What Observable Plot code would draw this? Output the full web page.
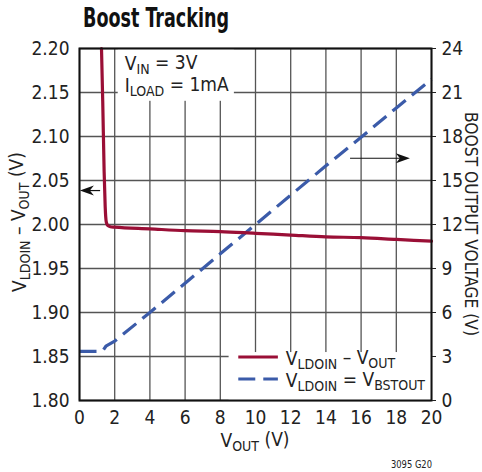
<!DOCTYPE html>
<html>
<head>
<meta charset="utf-8">
<script src="https://cdn.jsdelivr.net/npm/d3@7"></script>
<script src="https://cdn.jsdelivr.net/npm/@observablehq/plot@0.6"></script>
<style>
  html, body { margin: 0; padding: 0; background: #fff; }
  svg { display: block; }
</style>
</head>
<body>
<div id="chart"></div>
<script>
// ---- data ----
const xTicks = [0, 2, 4, 6, 8, 10, 12, 14, 16, 18, 20];
const yLeftTicks = [1.80, 1.85, 1.90, 1.95, 2.00, 2.05, 2.10, 2.15, 2.20];
const yRightTicks = [0, 3, 6, 9, 12, 15, 18, 21, 24];

// V_LDOIN - V_OUT (left axis, V)
const ldoVout = [1.25, 1.32, 1.40, 1.46, 1.52, 1.60, 1.75, 2, 4, 6, 8, 10, 12, 14, 16, 18, 20];
const ldoDiff = [2.20, 2.14, 2.06, 2.02, 2.003, 1.999, 1.9975, 1.997, 1.995, 1.993, 1.992, 1.990, 1.988, 1.986, 1.985, 1.983, 1.981];

// V_LDOIN = V_BSTOUT (right axis, V)
const bstVout = [0, 1.3, 1.5, 2, 4, 6, 8, 10, 12, 14, 16, 18, 20];
const bstV = [3.35, 3.35, 3.7, 4.05, 6.0, 8.0, 10.0, 12.0, 14.0, 16.0, 17.95, 19.95, 21.9];

// ---- helpers ----
const FONT = "'Liberation Sans Narrow', 'DejaVu Sans Condensed', 'Roboto Condensed', sans-serif";
const RED = "#9a0f36";
const BLUE = "#3b5ba9";
const GRID = "#555";
const rightToLeft = v => 1.80 + v / 24 * 0.40;

const ldoData = ldoVout.map((x, i) => ({x, y: ldoDiff[i]}));
const bstData = bstVout.map((x, i) => ({x, y: rightToLeft(bstV[i])}));

// white boxes (annotation + legend), drawn under the curves
function boxes(index, scales) {
  const x = scales.x, y = scales.y;
  const g = d3.create("svg:g");
  g.append("rect")
    .attr("x", x(2.2)).attr("y", y(2.20))
    .attr("width", x(8.8) - x(2.2)).attr("height", y(2.14) - y(2.20))
    .attr("fill", "white");
  g.append("rect")
    .attr("x", x(8.5)).attr("y", y(1.8545))
    .attr("width", x(20) - x(8.5)).attr("height", y(1.80) - y(1.8545))
    .attr("fill", "white");
  return g.node();
}

function arrows(index, scales) {
  const x = scales.x, y = scales.y;
  const g = d3.create("svg:g").attr("fill", "#111").attr("stroke", "#111");
  const ly = y(2.038);
  g.append("line").attr("x1", x(1.2)).attr("x2", x(0.6)).attr("y1", ly).attr("y2", ly).attr("stroke-width", 1.2);
  const lt = x(0.05);
  g.append("path").attr("stroke", "none")
    .attr("d", `M${lt},${ly} L${lt + 14},${ly - 5} L${lt + 10},${ly} L${lt + 14},${ly + 5} Z`);
  const ry = y(2.0747);
  g.append("line").attr("x1", x(15.4)).attr("x2", x(18.3)).attr("y1", ry).attr("y2", ry).attr("stroke-width", 1.2);
  const rt = x(18.8);
  g.append("path").attr("stroke", "none")
    .attr("d", `M${rt},${ry} L${rt - 14},${ry - 5} L${rt - 10},${ry} L${rt - 14},${ry + 5} Z`);
  return g.node();
}

const chart = Plot.plot({
  width: 482,
  height: 472,
  marginLeft: 79,
  marginRight: 51,
  marginTop: 48,
  marginBottom: 72,
  style: {fontFamily: FONT, fontSize: "19px", color: "#222", background: "white"},
  x: {domain: [0, 20]},
  y: {domain: [1.80, 2.20]},
  marks: [
    Plot.gridX(xTicks, {stroke: GRID, strokeOpacity: 1, strokeWidth: 1.3}),
    Plot.gridY(yLeftTicks, {stroke: GRID, strokeOpacity: 1, strokeWidth: 1.3}),
    boxes,
    arrows,
    Plot.line(bstData, {x: "x", y: "y", stroke: BLUE, strokeWidth: 3.2, strokeDasharray: "17,8", strokeLinecap: "butt"}),
    Plot.line(ldoData, {x: "x", y: "y", stroke: RED, strokeWidth: 3.2, curve: "monotone-x"}),
    Plot.frame({stroke: "#111", strokeWidth: 2}),
    Plot.axisX(xTicks, {tickSize: 0, tickPadding: 10, label: null, fontSize: 19, tickFormat: d => d}),
    Plot.axisY(yLeftTicks, {anchor: "left", tickSize: 0, tickPadding: 10, label: null, fontSize: 19, tickFormat: d3.format(".2f")}),
    Plot.axisY(yRightTicks.map(rightToLeft), {anchor: "right", tickSize: 4, tickPadding: 6, label: null, fontSize: 19,
      tickFormat: d => String(Math.round((d - 1.80) * 60))})
  ]
});

// ---- texts with subscripts ----
const svg = d3.select(chart);
const sx = chart.scale("x");

function subText(parent, parts, attrs, size, subSize) {
  const t = parent.append("text").attr("font-family", FONT).attr("font-size", size)
    .attr("fill", "#222").attr("text-anchor", "start");
  for (const k in attrs) t.attr(k, attrs[k]);
  let sub = false;
  for (const [s, isSub] of parts) {
    const ts = t.append("tspan").text(s);
    if (isSub) {
      ts.attr("font-size", subSize);
      if (!sub) { ts.attr("dy", "0.28em"); sub = true; }
    } else if (sub) {
      ts.attr("dy", "-0.28em"); sub = false;
    }
  }
  return t;
}

// title
svg.append("text").attr("x", 83).attr("y", 27).attr("text-anchor", "start")
  .attr("font-family", FONT).attr("font-weight", "bold").attr("font-size", 26).attr("fill", "#111")
  .attr("textLength", 146).attr("lengthAdjust", "spacingAndGlyphs")
  .text("Boost Tracking");

// annotation
subText(svg, [["V", false], ["IN", true], [" = 3V", false]], {x: sx.apply(2.6), y: 70}, 19, 14);
subText(svg, [["I", false], ["LOAD", true], [" = 1mA", false]], {x: sx.apply(2.6), y: 92}, 19, 14);

// legend
const lx0 = sx.apply(9.05), lx1 = sx.apply(11.3), ltx = sx.apply(11.75);
const ly1 = 357, ly2 = 379;
svg.append("line").attr("x1", lx0).attr("x2", lx1).attr("y1", ly1).attr("y2", ly1).attr("stroke", RED).attr("stroke-width", 3.2);
svg.append("line").attr("x1", lx0).attr("x2", lx1).attr("y1", ly2).attr("y2", ly2).attr("stroke", BLUE).attr("stroke-width", 3.2).attr("stroke-dasharray", "17,8");
subText(svg, [["V", false], ["LDOIN", true], [" – V", false], ["OUT", true]], {x: ltx, y: ly1 + 8}, 19, 14);
subText(svg, [["V", false], ["LDOIN", true], [" = V", false], ["BSTOUT", true]], {x: ltx, y: ly2 + 8}, 19, 14);

// axis titles
subText(svg, [["V", false], ["OUT", true], [" (V)", false]], {x: 255, y: 447, "text-anchor": "middle"}, 19, 14);
subText(svg, [["V", false], ["LDOIN", true], [" – V", false], ["OUT", true], [" (V)", false]],
  {transform: "translate(26,222) rotate(-90)", "text-anchor": "middle"}, 19, 14);
svg.append("text").attr("transform", "translate(465,224) rotate(90)").attr("text-anchor", "middle")
  .attr("font-family", FONT).attr("font-size", 18).attr("fill", "#222")
  .attr("textLength", 224).attr("lengthAdjust", "spacingAndGlyphs")
  .text("BOOST OUTPUT VOLTAGE (V)");

// figure id
svg.append("text").attr("x", 432).attr("y", 468).attr("text-anchor", "end")
  .attr("font-family", FONT).attr("font-size", 11).attr("fill", "#222")
  .attr("textLength", 41).attr("lengthAdjust", "spacingAndGlyphs").text("3095 G20");

document.getElementById("chart").appendChild(chart);
</script>
</body>
</html>
